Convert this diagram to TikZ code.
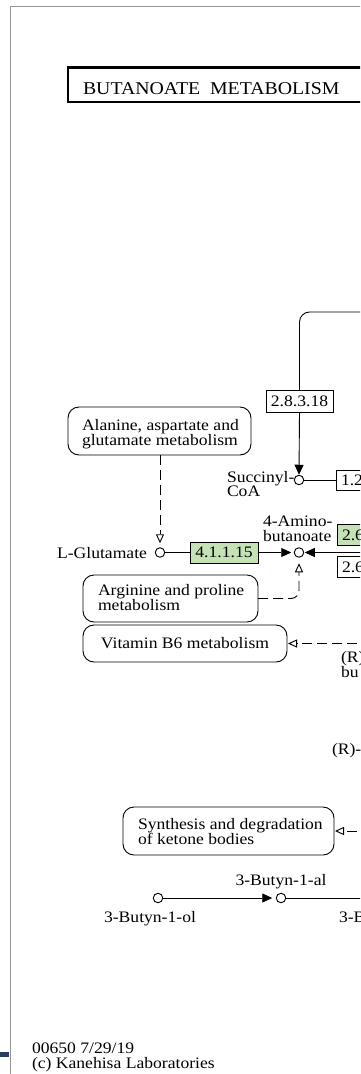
\documentclass[tikz,border=0pt]{standalone}
\usepackage{fontspec}
\setmainfont[FakeStretch=1.1]{Liberation Serif}
\usetikzlibrary{arrows.meta}

\definecolor{ecgreen}{RGB}{196,226,182}
\definecolor{framegray}{RGB}{150,150,150}
\definecolor{cornerbar}{RGB}{40,60,95}

\newcommand{\lblfont}{\fontsize{16}{14.5}\selectfont}
\newcommand{\ttlfont}{\fontsize{18}{20}\selectfont}
% two-line label whose base is the first line's baseline
\newcommand{\twol}[2]{\begin{tabular}[t]{@{}l@{}}#1\\#2\end{tabular}}

\begin{document}
\begin{tikzpicture}[x=1pt,y=-1pt,
  every node/.style={inner sep=0pt, outer sep=0pt},
  lbl/.style={font=\lblfont},
  conn/.style={line width=0.9pt},
  fwd/.style={conn, -{Triangle[length=10pt,width=9pt]}},
  rel/.style={conn, dash pattern=on 10pt off 5pt, -{Triangle[open,length=9pt,width=8pt]}},
  cpd/.style={circle, draw, line width=0.9pt, minimum size=9.5pt, fill=white},
  enz/.style={draw, line width=0.9pt, minimum height=22pt, minimum width=67pt, font=\lblfont, fill=white},
  enzR/.style={enz, anchor=west, text width=57pt, align=left, inner xsep=5pt, minimum height=21pt},
  mapbox/.style={draw, rounded corners=11pt, line width=0.9pt, anchor=north west},
]
\useasboundingbox (0,0) rectangle (360,1074);
\clip (0,0) rectangle (360,1074);

% page frame and corner mark
\draw[framegray, line width=1pt] (10,1080) -- (10,6) -- (370,6);
\fill[cornerbar] (0,1052) rectangle (9,1057);

% title
\node[draw, line width=2.5pt, anchor=north west, minimum width=330pt, minimum height=34.5pt] (titlebox) at (68.2,67.3) {};
\node[anchor=base west, font=\ttlfont] (titletext) at (83,94) {BUTANOATE\ \ METABOLISM};

% compounds
\node[cpd] (succ)  at (299,480) {};
\node[cpd] (gaba)  at (299,552.5) {};
\node[cpd] (glu)   at (160,552.5) {};
\node[cpd] (butol) at (158,898) {};
\node[cpd] (butal) at (281,898) {};

% enzymes
\node[enz] (e28318) at (299.5,401.5) {2.8.3.18};
\node[enz, fill=ecgreen, minimum width=68pt, minimum height=21pt] (e41115) at (224,552.5) {4.1.1.15};
\node[enzR, minimum height=20pt] (e12) at (336,480) {1.2};
\node[enzR, fill=ecgreen] (e26a) at (337,535) {2.6};
\node[enzR] (e26b) at (337,567) {2.6};

% pathway maps
\node[mapbox, minimum width=183pt, minimum height=48pt] (ala) at (68,407) {};
\node[lbl, anchor=base west] (alat) at (82,430) {\twol{Alanine, aspartate and}{glutamate metabolism}};
\node[mapbox, minimum width=175pt, minimum height=47pt] (arg) at (83,575) {};
\node[lbl, anchor=base west] (argt) at (98,595) {\twol{Arginine and proline}{metabolism}};
\node[mapbox, minimum width=204pt, minimum height=37pt, font=\lblfont] (b6) at (83,625) {Vitamin B6 metabolism};
\node[mapbox, minimum width=211pt, minimum height=48pt] (ket) at (123,807) {};
\node[lbl, anchor=base west] (kett) at (138,829) {\twol{Synthesis and degradation}{of ketone bodies}};

% compound labels
\node[lbl, anchor=base west] (succl) at (227,482) {\twol{Succinyl-}{CoA}};
\node[lbl, anchor=base west] (gabal) at (263,526) {\twol{4-Amino-}{butanoate}};
\node[lbl, anchor=base east] (glul) at (147,558) {L-Glutamate};
\node[lbl, anchor=base west] (rhbl) at (341,662) {\twol{(R)}{bu}};
\node[lbl, anchor=base west] (rhbl2) at (332,754) {(R)-};
\node[lbl, anchor=base] (butall) at (281,885) {3-Butyn-1-al};
\node[lbl, anchor=base] (butoll) at (150,922) {3-Butyn-1-ol};
\node[lbl, anchor=base west] (butoatel) at (339,922) {3-B};

% free ends of connectors leaving the right edge
\coordinate (topR)   at (372,312);
\coordinate (gabaR)  at (372,552.5);
\coordinate (b6R)    at (372,643.5);
\coordinate (ketR)   at (372,831);
\coordinate (butalR) at (372,898);

% reactions
\draw[conn, rounded corners=10pt] (topR) -| (e28318.north);
\draw[fwd, shorten >=0.5pt] (e28318.south) -- (succ.north);
\draw[conn] (succ.east) -- (e12.west);
\draw[conn] (glu.east) -- (e41115.west);
\draw[fwd, shorten >=3pt] (e41115.east) -- (gaba.west);
\draw[fwd, shorten >=1pt] (gabaR) -- (gaba.east);
\draw[fwd, shorten >=4pt] (butol.east) -- (butal.west);
\draw[conn] (butal.east) -- (butalR);

% links to other maps
\draw[rel, shorten >=4.5pt] (glu |- ala.south) -- (glu.north);
\draw[rel, rounded corners=8pt, shorten >=6pt] (arg.east) -| (gaba.south);
\draw[rel, shorten >=1pt] (b6R) -- (b6.east);
\draw[rel, shorten >=1pt] (ketR) -- (ket.east);

% footer
\node[lbl, anchor=base west] (foot) at (32,1053) {\twol{00650 7/29/19}{(c) Kanehisa Laboratories}};
\end{tikzpicture}
\end{document}
